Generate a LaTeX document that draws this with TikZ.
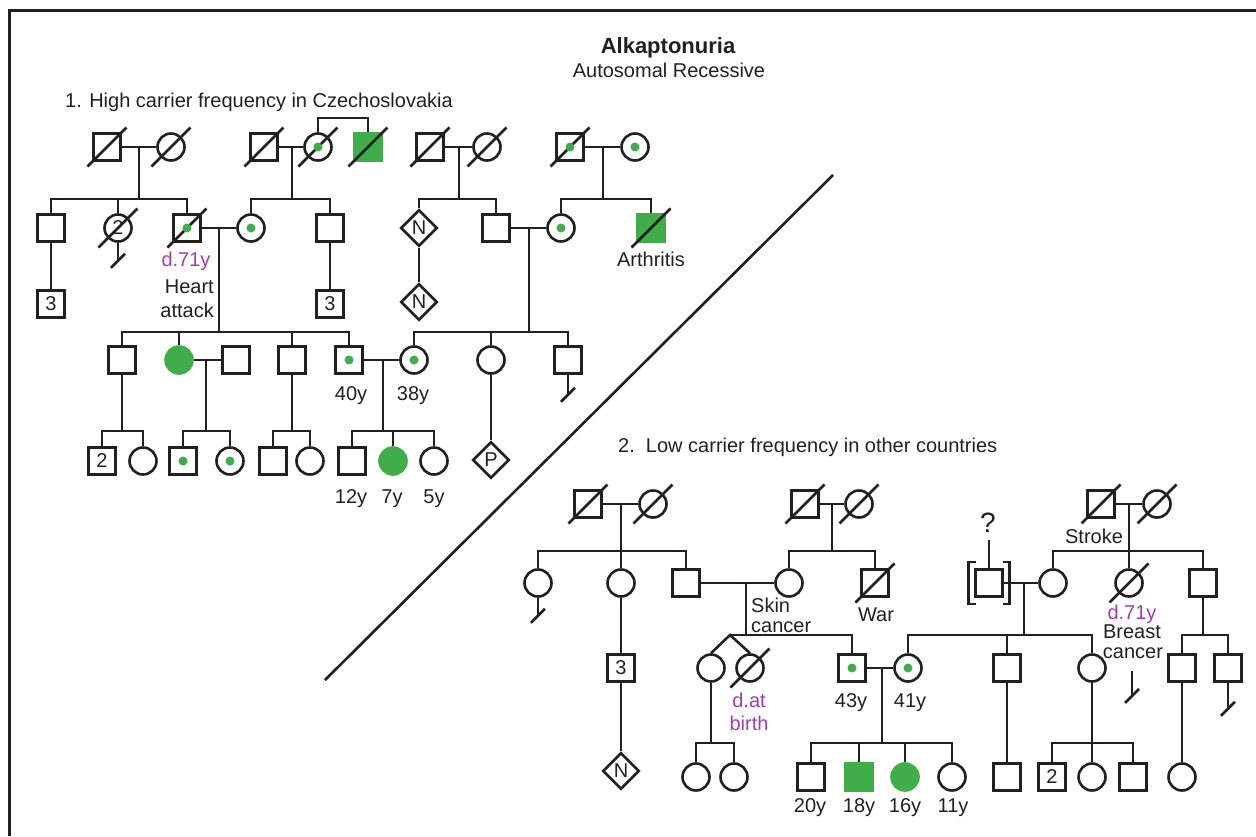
\documentclass[tikz,border=0pt]{standalone}
\usepackage{fontspec}
\setmainfont{Liberation Sans}
\usetikzlibrary{shapes.geometric,calc}
\definecolor{gr}{RGB}{62,173,74}
\definecolor{pu}{RGB}{160,64,170}
\definecolor{ink}{RGB}{35,31,32}
\tikzset{
  ln/.style={line width=2.6pt, draw=ink},
  sq/.style={ln, rectangle, minimum size=27pt, inner sep=0pt, text=ink},
  ci/.style={ln, circle, minimum size=27pt, inner sep=0pt, text=ink},
  dm/.style={ln, diamond, minimum width=36.5pt, minimum height=36.5pt, inner sep=0pt, text=ink},
  aff/.style={fill=gr, draw=gr},
  txt/.style={inner sep=0pt, text=ink, anchor=base},
  ptxt/.style={inner sep=0pt, text=pu, anchor=base},
}
\newcommand\mkdec[1]{\draw[ln] ($(#1)+(-19.5,19.5)$) -- ($(#1)+(19.5,-19.5)$);}
\newcommand\mkcar[1]{\fill[gr] (#1) circle (4.5pt);}
\newcommand\mknoff[2]{\draw[ln] (#1.south) -- ++(0,#2) coordinate (#1nx);
  \draw[ln] ($(#1nx)+(-7,7)$) -- ($(#1nx)+(7,-7)$);}
% #1 y of sibship line, #2 parent coordinate, #3 first child, #4 last child, #5 middle children
\newcommand\mksib[5]{%
  \draw[ln] (#2) -- (#2 |- 0,#1);
  \draw[ln] (#3.north) -- (#3.north |- 0,#1) -- (#4.north |- 0,#1) -- (#4.north);
  \foreach \c in {#5} {\draw[ln] (\c.north) -- (\c.north |- 0,#1);}
}
\newcommand\mkmar[3]{\draw[ln] (#1.east) -- (#2.west); }
\begin{document}
\begin{tikzpicture}[x=1pt,y=-1pt,font=\fontsize{20}{22}\selectfont]
\useasboundingbox (0,0) rectangle (1256,836);
\draw[line width=3pt, draw=ink] (9,836) -- (9,10) -- (1256,10);

% titles
\node[txt] (title) at (668,53) {\fontsize{22}{24}\selectfont\bfseries Alkaptonuria};
\node[txt] (subtitle) at (669,77) {Autosomal Recessive};
\node[txt, anchor=base west] (head1) at (65,107) {1. High carrier frequency in Czechoslovakia};
\node[txt, anchor=base west] (head2) at (618,452) {2.\ \ Low carrier frequency in other countries};

% divider
\coordinate (dv1) at (833,175);
\coordinate (dv2) at (325,680);
\draw[ln] (dv1) -- (dv2);

%%%%%%%%%%%%%%%% PART 1 %%%%%%%%%%%%%%%%
% generation I
\node[sq] (a1) at (107,147) {};
\node[ci] (a2) at (171,147) {};
\node[sq] (b1) at (264,147) {};
\node[ci] (b2) at (318,147) {};
\node[sq,aff] (b3) at (368,147) {};
\node[sq] (c1) at (430,147) {};
\node[ci] (c2) at (487,147) {};
\node[sq] (d1) at (570,147) {};
\node[ci] (d2) at (635,147) {};
\foreach \n in {a1,a2,b1,b2,b3,c1,c2,d1} {\mkdec{\n}}
\mkcar{b2}\mkcar{d1}\mkcar{d2}
\draw[ln] (a1.east) -- (a2.west);
\draw[ln] (b1.east) -- (b2.west);
\draw[ln] (c1.east) -- (c2.west);
\draw[ln] (d1.east) -- (d2.west);
\draw[ln] (b2.north) -- (b2.north |- 0,118) -| (b3.north);
\coordinate (am) at (139,147);
\coordinate (bm) at (292,147);
\coordinate (cm) at (459,147);
\coordinate (dm) at (603,147);

% generation II
\node[sq] (e1) at (51,228) {};
\node[ci] (e2) at (118,228) {2};
\node[sq] (e3) at (187,228) {};
\node[ci] (e4) at (251,228) {};
\node[sq] (e5) at (330,228) {};
\node[dm] (f1) at (419,228) {N};
\node[sq] (f2) at (496,228) {};
\node[ci] (f3) at (561,228) {};
\node[sq,aff] (f4) at (651,228) {};
\foreach \n in {e2,e3,f4} {\mkdec{\n}}
\mkcar{e3}\mkcar{e4}\mkcar{f3}
\mksib{199}{am}{e1}{e3}{e2}
\mksib{199}{bm}{e4}{e5}{}
\mksib{199}{cm}{f1}{f2}{}
\mksib{199}{dm}{f3}{f4}{}
\mknoff{e2}{18}
\draw[ln] (e3.east) -- (e4.west);
\draw[ln] (f2.east) -- (f3.west);
\coordinate (em) at (219,228);
\coordinate (fm) at (529,228);
\node[ptxt] (lab1) at (186,266) {d.71y};
\node[txt, anchor=base east] (lab2) at (214,293) {Heart};
\node[txt, anchor=base east] (lab3) at (214,317) {attack};
\node[txt] (lab4) at (651,266) {Arthritis};

\node[sq] (x1) at (51,304) {3};
\node[sq] (x2) at (330,304) {3};
\node[dm] (x3) at (419,302) {N};
\draw[ln] (e1.south) -- (x1.north);
\draw[ln] (e5.south) -- (x2.north);
\draw[ln] (f1.south) -- (x3.north);

% generation III
\node[sq] (g1) at (122,360) {};
\node[ci,aff] (g2) at (179,360) {};
\node[sq] (g3) at (236,360) {};
\node[sq] (g4) at (292,360) {};
\node[sq] (g5) at (349,360) {};
\node[ci] (g6) at (414,360) {};
\node[ci] (g7) at (491,360) {};
\node[sq] (g8) at (568,360) {};
\mkcar{g5}\mkcar{g6}
\mksib{332}{em}{g1}{g5}{g2,g4}
\mksib{332}{fm}{g6}{g8}{g7}
\mknoff{g8}{20}
\draw[ln] (g2.east) -- (g3.west);
\draw[ln] (g5.east) -- (g6.west);
\coordinate (gm1) at (206,360);
\coordinate (gm2) at (383,360);
\coordinate (g1d) at (122,374);
\coordinate (g4d) at (292,374);
\node[txt] (lab5) at (351,400) {40y};
\node[txt] (lab6) at (413,400) {38y};

% generation IV
\node[sq] (h1) at (102,461) {2};
\node[ci] (h2) at (143,461) {};
\node[sq] (h3) at (183,461) {};
\node[ci] (h4) at (230,461) {};
\node[sq] (h5) at (273,461) {};
\node[ci] (h6) at (310,461) {};
\node[sq] (h7) at (352,461) {};
\node[ci,aff] (h8) at (393,461) {};
\node[ci] (h9) at (434,461) {};
\node[dm] (h10) at (491,460) {P};
\mkcar{h3}\mkcar{h4}
\mksib{431}{g1.south}{h1}{h2}{}
\mksib{431}{gm1}{h3}{h4}{}
\mksib{431}{g4.south}{h5}{h6}{}
\mksib{431}{gm2}{h7}{h9}{h8}
\draw[ln] (g7.south) -- (h10.north);
\node[txt] (lab7) at (351,503) {12y};
\node[txt] (lab8) at (392,503) {7y};
\node[txt] (lab9) at (434,503) {5y};

%%%%%%%%%%%%%%%% PART 2 %%%%%%%%%%%%%%%%
% generation I
\node[sq] (p1) at (588,504) {};
\node[ci] (p2) at (653,504) {};
\node[sq] (q1) at (805,504) {};
\node[ci] (q2) at (859,504) {};
\node[sq] (r1) at (1101,504) {};
\node[ci] (r2) at (1157,504) {};
\foreach \n in {p1,p2,q1,q2,r1,r2} {\mkdec{\n}}
\draw[ln] (p1.east) -- (p2.west);
\draw[ln] (q1.east) -- (q2.west);
\draw[ln] (r1.east) -- (r2.west);
\coordinate (pm) at (621,504);
\coordinate (qm) at (832,504);
\coordinate (rm) at (1129,504);
\node[txt] (lab10) at (1094,543) {Stroke};

% generation II
\node[ci] (s1) at (538,583) {};
\node[ci] (s2) at (621,583) {};
\node[sq] (s3) at (686,583) {};
\node[ci] (s4) at (789,583) {};
\node[sq] (s5) at (875,583) {};
\node[sq] (t1) at (989,583) {};
\node[ci] (t2) at (1053,583) {};
\node[ci] (t3) at (1129,583) {};
\node[sq] (t4) at (1203,583) {};
\mkdec{s5}\mkdec{t3}
\mksib{551}{pm}{s1}{s3}{s2}
\mksib{551}{qm}{s4}{s5}{}
\mksib{551}{rm}{t2}{t4}{t3}
\mknoff{s1}{18}
\draw[ln] (s3.east) -- (s4.west);
\draw[ln] (t1.east) -- (t2.west);
\coordinate (sm) at (746,583);
\coordinate (tm) at (1024,583);
% adoption brackets and question
\draw[ln] ($(t1)+(-13.5,-21)$) -- ++(-7,0) -- ++(0,42) -- ++(7,0);
\draw[ln] ($(t1)+(13.5,-21)$) -- ++(7,0) -- ++(0,42) -- ++(-7,0);
\draw[ln] (t1.north) -- ++(0,-28) coordinate (qtop);
\node[txt] (qmark) at (988,532) {\fontsize{28}{30}\selectfont ?};
\node[txt, anchor=base west] (lab11) at (751,612) {Skin};
\node[txt, anchor=base west] (lab12) at (751,632) {cancer};
\node[txt] (lab13) at (876,621) {War};
\node[ptxt] (lab14) at (1132,619) {d.71y};
\node[txt] (lab15) at (1132,638) {Breast};
\node[txt] (lab16) at (1133,658) {cancer};
\coordinate (t3a) at (1132,671);
\coordinate (t3b) at (1132,696);
\draw[ln] (t3a) -- (t3b);
\draw[ln] ($(t3b)+(-7,7)$) -- ($(t3b)+(7,-7)$);

% generation III
\node[sq] (u1) at (621,668) {3};
\node[dm] (u2) at (621,771) {N};
\draw[ln] (s2.south) -- (u1.north);
\draw[ln] (u1.south) -- (u2.north);
\node[ci] (v1) at (711,668) {};
\node[ci] (v2) at (750,668) {};
\mkdec{v2}
\coordinate (tw) at (730,635);
\draw[ln] (sm) -- (sm |- 0,635);
\draw[ln] (v1.north) -- (tw) -- (v2.north);
\node[sq] (w1) at (852,668) {};
\node[ci] (w2) at (908,668) {};
\mkcar{w1}\mkcar{w2}
\draw[ln] (tw) -- (w1.north |- 0,635) -- (w1.north);
\draw[ln] (w1.east) -- (w2.west);
\coordinate (wm) at (882,668);
\node[ptxt] (lab17) at (749,707) {d.at};
\node[ptxt] (lab18) at (749,730) {birth};
\node[txt] (lab19) at (851,707) {43y};
\node[txt] (lab20) at (910,707) {41y};
\node[sq] (y1) at (1007,668) {};
\node[ci] (y2) at (1092,668) {};
\mksib{635}{tm}{w2}{y2}{y1}
\node[sq] (z1) at (1182,668) {};
\node[sq] (z2) at (1228,668) {};
\mksib{635}{t4.south}{z1}{z2}{}
\mknoff{z2}{26}

% generation IV
\node[ci] (k1) at (696,777) {};
\node[ci] (k2) at (734,777) {};
\mksib{743}{v1.south}{k1}{k2}{}
\node[sq] (l1) at (811,777) {};
\node[sq,aff] (l2) at (859,777) {};
\node[ci,aff] (l3) at (905,777) {};
\node[ci] (l4) at (952,777) {};
\mksib{743}{wm}{l1}{l4}{l2,l3}
\node[txt] (lab21) at (810,812) {20y};
\node[txt] (lab22) at (859,812) {18y};
\node[txt] (lab23) at (905,812) {16y};
\node[txt] (lab24) at (953,812) {11y};
\node[sq] (m1) at (1007,777) {};
\draw[ln] (y1.south) -- (m1.north);
\node[sq] (m2) at (1052,777) {2};
\node[ci] (m3) at (1092,777) {};
\node[sq] (m4) at (1133,777) {};
\mksib{743}{y2.south}{m2}{m4}{m3}
\node[ci] (m5) at (1182,777) {};
\draw[ln] (z1.south) -- (m5.north);
\end{tikzpicture}
\end{document}
